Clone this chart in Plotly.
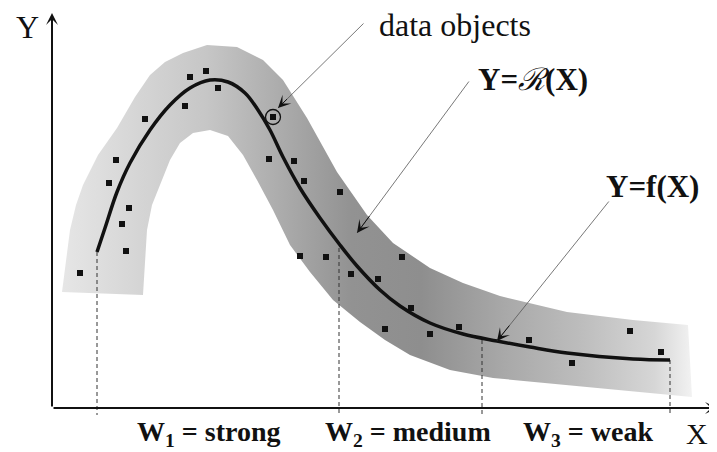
import plotly.graph_objects as go

# ---- data (x measured right from the Y axis, y measured up from the X axis) ----
pt_x = [28, 74, 70, 77, 57, 64, 93, 133, 138, 154, 166, 221, 217, 242, 252, 288,
        248, 274, 350, 299, 326, 359, 333, 378, 407, 477, 520, 578, 609]
pt_y = [135, 157, 184, 200, 225, 248, 289, 302, 331, 337, 320, 291, 249, 247, 227, 216,
        152, 151, 151, 134, 129, 100, 79, 74, 81, 68, 45, 77, 56]

circled_x = [221]
circled_y = [291]

curve_x = [45, 53, 65, 78, 98, 118, 138, 158, 176, 193, 206, 218, 231, 248, 268, 288,
           305, 328, 348, 378, 411, 445, 478, 515, 581, 618]
curve_y = [156, 180, 216, 245, 278, 303, 320, 328, 326, 315, 298, 278, 251, 220, 190, 163,
           142, 118, 102, 85, 74, 67, 61, 55, 49, 48]

band_outer_x = [10, 14, 18, 24, 31, 46, 65, 83, 98, 113, 131, 155, 185, 211, 231, 255,
                285, 315, 341, 378, 411, 448, 478, 515, 581, 636]
band_outer_y = [116, 148, 178, 203, 223, 253, 280, 311, 333, 346, 355, 363, 361, 348, 328, 290,
                236, 193, 165, 140, 125, 112, 105, 96, 88, 83]
band_inner_x = [91, 93, 95, 100, 108, 118, 128, 141, 158, 176, 191, 205, 221, 238, 258, 281,
                308, 333, 358, 398, 441, 488, 541, 588, 640]
band_inner_y = [113, 148, 178, 203, 223, 248, 265, 275, 278, 272, 253, 228, 198, 163, 136, 108,
                86, 68, 53, 38, 30, 25, 20, 16, 11]

w_x = [45, 287, 430, 618]
w_top = [156, 160, 68, 48]
w_bottom = -7

w_labels = ["<b>W<sub>1</sub> = strong</b>", "<b>W<sub>2</sub> = medium</b>", "<b>W<sub>3</sub> = weak</b>"]
w_label_x = [156, 356, 536]

x_max, y_max = 665, 395

SERIF = "Liberation Serif, Times New Roman, serif"

fig = go.Figure()

# gray band
fig.add_trace(go.Scatter(
    x=band_outer_x + band_inner_x[::-1],
    y=band_outer_y + band_inner_y[::-1],
    mode="lines", line=dict(width=0), fill="toself",
    fillgradient=dict(type="horizontal", start=10, stop=640,
                      colorscale=[[0.0, "#e6e6e6"], [0.13, "#d4d4d4"], [0.23, "#c6c6c6"],
                                  [0.35, "#ababab"], [0.46, "#929292"], [0.57, "#8e8e8e"],
                                  [0.70, "#a8a8a8"], [0.83, "#bebebe"], [0.94, "#d6d6d6"],
                                  [1.0, "#f2f2f2"]]),
    hoverinfo="skip", showlegend=False))

# dashed W lines
for wx, wt in zip(w_x, w_top):
    fig.add_trace(go.Scatter(x=[wx, wx], y=[wt, w_bottom], mode="lines",
                             line=dict(color="#333", width=1, dash="4px,3px"),
                             hoverinfo="skip", showlegend=False))

# fitted curve
fig.add_trace(go.Scatter(x=curve_x, y=curve_y, mode="lines",
                         line=dict(color="#111", width=3.5, shape="spline", smoothing=1.0),
                         hoverinfo="skip", showlegend=False))

# data objects
fig.add_trace(go.Scatter(x=pt_x, y=pt_y, mode="markers",
                         marker=dict(symbol="square", size=6, color="#111"),
                         hoverinfo="skip", showlegend=False))
fig.add_trace(go.Scatter(x=circled_x, y=circled_y, mode="markers",
                         marker=dict(symbol="circle-open", size=15, color="#111",
                                     line=dict(width=1.3, color="#111")),
                         hoverinfo="skip", showlegend=False))

ann = []
# axes with arrows
ann.append(dict(x=x_max, y=0, ax=0, ay=0, xref="x", yref="y", axref="x", ayref="y",
                text="", showarrow=True, arrowhead=3, arrowsize=1.0, arrowwidth=2, arrowcolor="#111"))
ann.append(dict(x=0, y=y_max, ax=0, ay=0, xref="x", yref="y", axref="x", ayref="y",
                text="", showarrow=True, arrowhead=3, arrowsize=1.0, arrowwidth=2, arrowcolor="#111"))

# leader arrows: thin gray shaft + black barbed head
leaders = [((313, 386), (226, 300)), ((418, 328), (305, 175)), ((558, 208), (445, 67))]
for (tx, ty), (hx, hy) in leaders:
    ann.append(dict(x=hx, y=hy, ax=tx, ay=ty, xref="x", yref="y", axref="x", ayref="y",
                    text="", showarrow=True, arrowhead=0, arrowwidth=0.8, arrowcolor="#555"))
    f = 0.12
    ann.append(dict(x=hx, y=hy, ax=hx + f * (tx - hx), ay=hy + f * (ty - hy),
                    xref="x", yref="y", axref="x", ayref="y",
                    text="", showarrow=True, arrowhead=3, arrowsize=2.1, arrowwidth=1,
                    arrowcolor="#111"))

# texts
ann.append(dict(x=403, y=383, xref="x", yref="y", text="data objects", showarrow=False,
                font=dict(family=SERIF, size=32, color="#111")))
ann.append(dict(x=481, y=329, xref="x", yref="y",
                text="<b>Y=</b><i>ℛ</i><b>(X)</b>", showarrow=False,
                font=dict(family=SERIF, size=31, color="#111")))
ann.append(dict(x=600, y=222, xref="x", yref="y", text="<b>Y=f(X)</b>", showarrow=False,
                font=dict(family=SERIF, size=31, color="#111")))
ann.append(dict(x=-25, y=381, xref="x", yref="y", text="Y", showarrow=False,
                font=dict(family=SERIF, size=32, color="#111")))
ann.append(dict(x=658, y=-25, xref="x", yref="y", text="X", showarrow=False,
                xanchor="right", font=dict(family=SERIF, size=30, color="#111")))
for lab, lx in zip(w_labels, w_label_x):
    ann.append(dict(x=lx, y=-25, xref="x", yref="y", text=lab, showarrow=False,
                    font=dict(family=SERIF, size=28, color="#111")))

# page has an 8px body margin: size the figure so the picture fits the 717x452 window
fig.update_layout(
    width=709, height=444,
    margin=dict(l=0, r=0, t=0, b=0),
    paper_bgcolor="white", plot_bgcolor="white",
    xaxis=dict(range=[-44, 665], visible=False, fixedrange=True),
    yaxis=dict(range=[-44, 400], visible=False, fixedrange=True),
    annotations=ann,
    showlegend=False,
)

fig.write_html("out.html")
